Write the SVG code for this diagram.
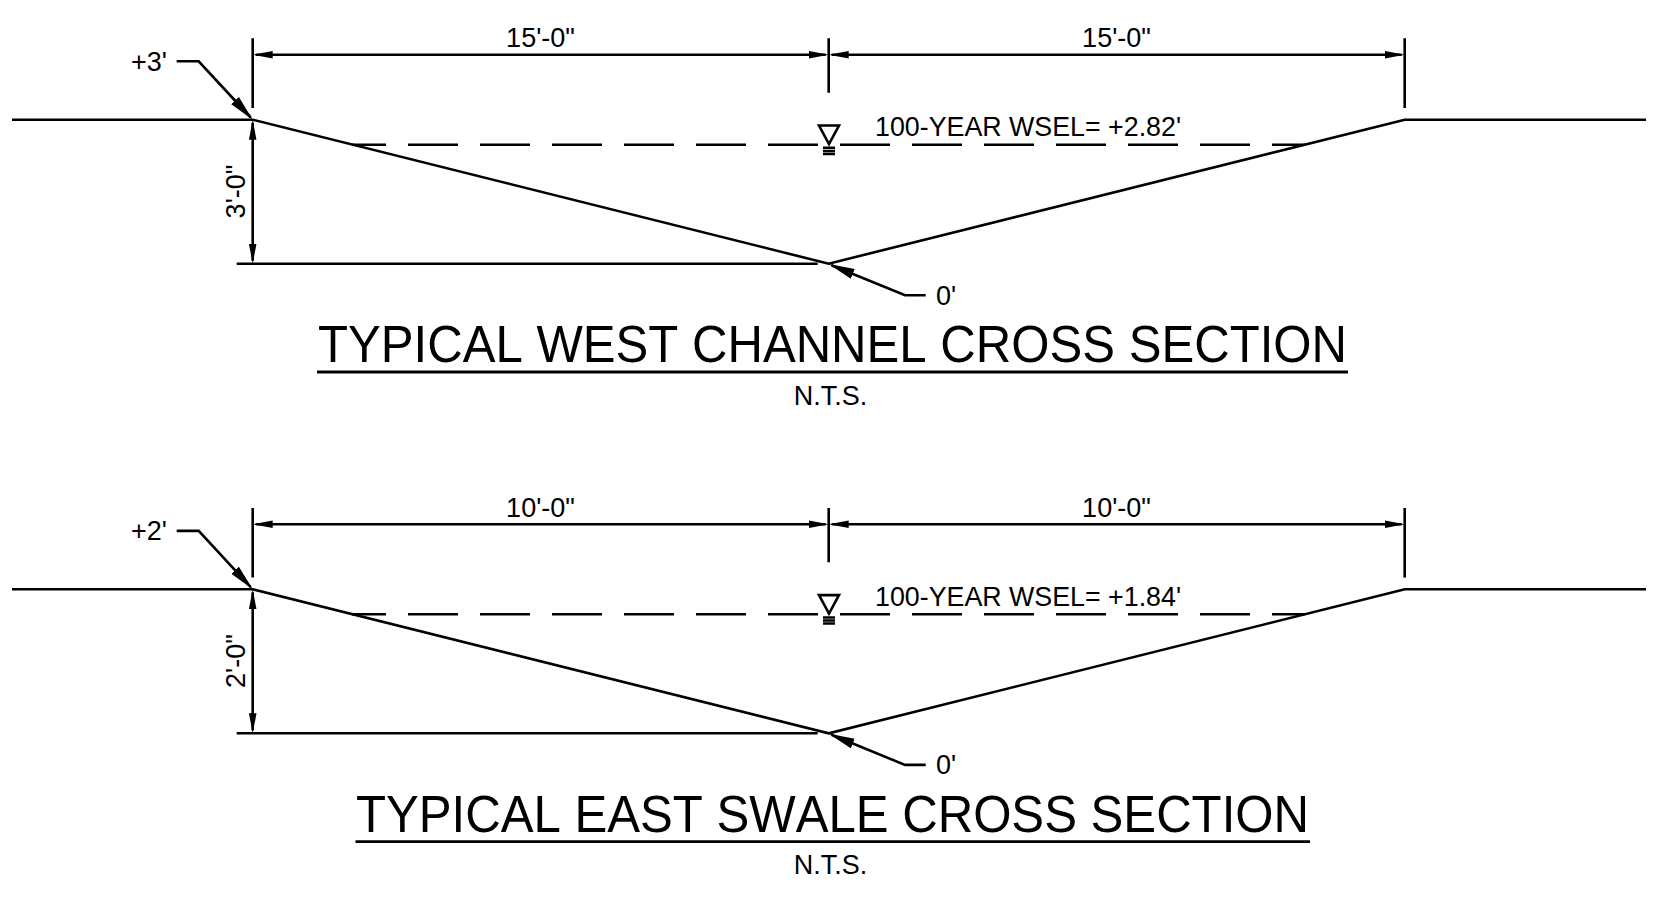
<svg xmlns="http://www.w3.org/2000/svg" width="1661" height="900" viewBox="0 0 1661 900">
<style>
.l{fill:none;stroke:#000;stroke-width:2.6}
.u{fill:none;stroke:#000;stroke-width:2.8}
.dim{marker-start:url(#a);marker-end:url(#a)}
.lead{marker-end:url(#b)}
.w{stroke-dasharray:50 22;stroke-dashoffset:16}
.bar{fill:none;stroke:#000;stroke-width:2.5}
text{font-family:"Liberation Sans",Arial,sans-serif;fill:#000;font-size:27px}
.title{font-size:51px;font-kerning:none}
.wsel{font-size:26.8px}
.m{text-anchor:middle}
</style>
<defs>
<marker id="a" markerUnits="userSpaceOnUse" markerWidth="21" markerHeight="9" refX="17" refY="4.5" orient="auto-start-reverse"><path d="M0 .7L20 4.5L0 8.3Z"/></marker>
<marker id="b" markerUnits="userSpaceOnUse" markerWidth="27" markerHeight="11" refX="23" refY="5.5" orient="auto"><path d="M0 .3L26 5.5L0 10.7Z"/></marker>
<g id="wl-sym">
<path class="l" d="M819 125.5H839L829 144Z"/>
<path class="bar" d="M823 147.8H835M823 150.9H835M823 154H835"/>
</g>
</defs>
<g id="west-section">
<path class="l" d="M12 119.7H252.7L828.7 263.7L1404.7 119.7H1646"/>
<path class="l" d="M236.7 263.7H817.7"/>
<path class="l" d="M252.7 38.3V108M828.7 38.3V92.7M1404.7 38.3V108"/>
<path class="l w" d="M352 144.7H1305"/>
<use href="#wl-sym"/>
<text x="540.5" y="47" class="m">15'-0"</text>
<text x="1116.5" y="47" class="m">15'-0"</text>
<text x="131" y="70.5">+3'</text>
<text transform="translate(244.5 191.5) rotate(-90)" class="m">3'-0"</text>
<text x="936" y="304.5">0'</text>
<text x="875" y="136" class="wsel">100-YEAR WSEL= +2.82'</text>
<text x="318" y="361.7" class="title" textLength="1029" lengthAdjust="spacingAndGlyphs">TYPICAL WEST CHANNEL CROSS SECTION</text>
<path class="u" d="M317 372H1348"/>
<text x="830.5" y="404.8" class="m">N.T.S.</text>
</g>
<g id="east-section">
<path class="l" d="M12 589.3H252.7L828.7 733.3L1404.7 589.3H1646"/>
<path class="l" d="M236.7 733.3H817.7"/>
<path class="l" d="M252.7 507.9V577.6M828.7 507.9V562.3M1404.7 507.9V577.6"/>
<path class="l w" d="M352 614.3H1305"/>
<use href="#wl-sym" y="469.6"/>
<text x="540.5" y="516.6" class="m">10'-0"</text>
<text x="1116.5" y="516.6" class="m">10'-0"</text>
<text x="131" y="540.1">+2'</text>
<text transform="translate(244.5 661.1) rotate(-90)" class="m">2'-0"</text>
<text x="936" y="774.1">0'</text>
<text x="875" y="605.6" class="wsel">100-YEAR WSEL= +1.84'</text>
<text x="356" y="831.7" class="title" textLength="953" lengthAdjust="spacingAndGlyphs">TYPICAL EAST SWALE CROSS SECTION</text>
<path class="u" d="M355.5 841.7H1310"/>
<text x="830.5" y="874.4" class="m">N.T.S.</text>
</g>
<g id="connectors">
<path class="l dim" d="M255.7 54.7H825.7"/>
<path class="l dim" d="M831.7 54.7H1401.7"/>
<path class="l dim" d="M252.7 122.7V260.7"/>
<path class="l lead" d="M176.7 61.3H198.7L250.7 117.5"/>
<path class="l lead" d="M925.7 295.3H905L831.5 265.2"/>
<path class="l dim" d="M255.7 524.3H825.7"/>
<path class="l dim" d="M831.7 524.3H1401.7"/>
<path class="l dim" d="M252.7 592.3V730.3"/>
<path class="l lead" d="M176.7 530.9H198.7L250.7 587.1"/>
<path class="l lead" d="M925.7 764.9H905L831.5 734.8"/>
</g>
</svg>
